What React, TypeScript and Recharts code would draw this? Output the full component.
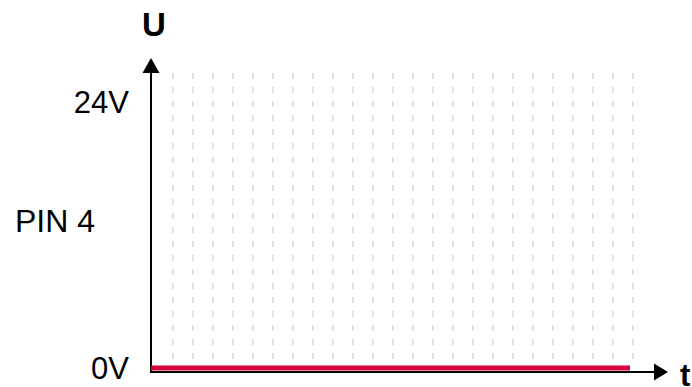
import React from 'react';
import { ComposedChart, Line, XAxis, YAxis, ReferenceLine, Label } from 'recharts';

// time positions of the dashed vertical grid lines
const gridTimes = [1.1, 2.1, 3.1, 4.1, 5.1, 6.1, 7.1, 8.1, 9.1, 10.1, 11.1, 12.1, 13.1, 14.1, 15.1, 16.1, 17.1, 18.1, 19.1, 20.1, 21.1, 22.1, 23.1, 24.1];
// signal: PIN 4 stays at 0V
const signalTimes = [0, 23.95];
const signalValues = [0, 0];
const yTicks = [0, 24];
const yTickLabels = ['0V', '24V'];
const seriesLabel = 'PIN 4';
const yAxisTitle = 'U';
const xAxisTitle = 't';

const X_DOMAIN: [number, number] = [0, 25.85];
const Y_DOMAIN: [number, number] = [-0.36, 28.02];
const GRID_TOP = 26.66;
const GRID_BOTTOM = 0.45;

const data = signalTimes.map((t, i) => ({ t, v: signalValues[i] }));

const FONT = 'Arial, "Liberation Sans", sans-serif';

const VerticalAxisShape = (props: any) => {
  const x = props.x1;
  const top = Math.min(props.y1, props.y2);
  const bottom = Math.max(props.y1, props.y2);
  return (
    <g>
      <line x1={x} y1={bottom + 1} x2={x} y2={top + 12} stroke="#000" strokeWidth={2} />
      <polygon points={`${x},${top} ${x - 8.5},${top + 15} ${x + 8.5},${top + 15}`} fill="#000" />
      <text x={x + 3} y={top - 33.5} textAnchor="middle" dominantBaseline="central" fontFamily={FONT} fontWeight="bold" fontSize={33} fill="#000">
        {yAxisTitle}
      </text>
    </g>
  );
};

const HorizontalAxisShape = (props: any) => {
  const y = props.y1;
  const left = Math.min(props.x1, props.x2);
  const right = Math.max(props.x1, props.x2);
  return (
    <g>
      <line x1={left - 1} y1={y} x2={right - 12} y2={y} stroke="#000" strokeWidth={2} />
      <polygon points={`${right},${y} ${right - 14},${y - 8.5} ${right - 14},${y + 8.5}`} fill="#000" />
      <text x={right + 12} y={y + 3} textAnchor="start" dominantBaseline="central" fontFamily={FONT} fontWeight="bold" fontSize={31} fill="#000">
        {xAxisTitle}
      </text>
    </g>
  );
};

const PinLabel = (props: any) => {
  const vb = props.viewBox || { x: 0, y: 0, width: 0, height: 0 };
  return (
    <text x={vb.x + 15} y={vb.y + vb.height / 2 + 6} textAnchor="start" dominantBaseline="central" fontFamily={FONT} fontSize={32} fill="#000">
      {seriesLabel}
    </text>
  );
};

export default function App() {
  return (
    <div style={{ position: 'absolute', left: 0, top: 0, width: 692, height: 387, background: '#fff' }}>
      <ComposedChart width={692} height={387} data={data} margin={{ top: 58, right: 24, bottom: 15, left: 0 }}>
        <XAxis type="number" dataKey="t" domain={X_DOMAIN} hide allowDataOverflow />
        <YAxis
          type="number"
          domain={Y_DOMAIN}
          ticks={yTicks}
          tickFormatter={(v: number) => yTickLabels[yTicks.indexOf(v)] ?? ''}
          axisLine={false}
          tickLine={false}
          tickSize={0}
          tickMargin={22}
          width={151}
          allowDataOverflow
          tick={{ fontSize: 31, fill: '#000', fontFamily: FONT }}
        >
          <Label content={<PinLabel />} />
        </YAxis>
        {gridTimes.map((g) => (
          <ReferenceLine
            key={g}
            segment={[{ x: g, y: GRID_TOP }, { x: g, y: GRID_BOTTOM }]}
            stroke="#c4c4c4"
            strokeWidth={1}
            strokeDasharray="6 8"
          />
        ))}
        <ReferenceLine x={X_DOMAIN[0]} shape={<VerticalAxisShape />} />
        <ReferenceLine y={Y_DOMAIN[0]} shape={<HorizontalAxisShape />} />
        <Line
          type="linear"
          dataKey="v"
          stroke="#d9003a"
          strokeWidth={5}
          dot={false}
          activeDot={false}
          isAnimationActive={false}
        />
      </ComposedChart>
    </div>
  );
}
